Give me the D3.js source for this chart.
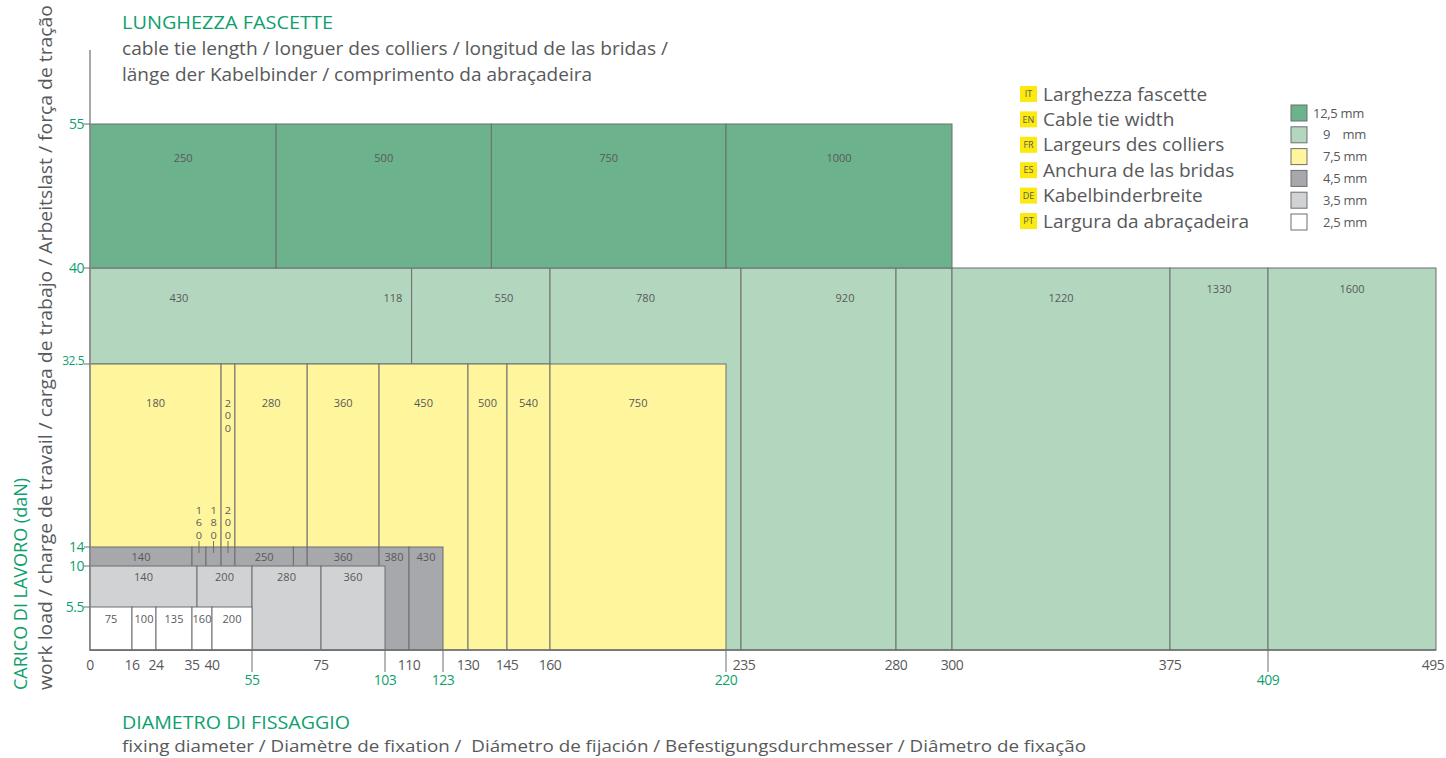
<!DOCTYPE html>
<html>
<head>
<meta charset="utf-8">
<script src="https://cdn.jsdelivr.net/npm/d3@7"></script>
<style>
  body { margin: 0; background: #fff; }
  svg { font-family: "Open Sans", "Noto Sans", sans-serif; }
</style>
</head>
<body>
<div id="chart"></div>
<script>
// Tick values on both axes
const xTicksGrey = [0, 16, 24, 35, 40, 75, 110, 130, 145, 160, 235, 280, 300, 375, 495];
const xTicksGreen = [55, 103, 123, 220, 409];
const yTicks = [5.5, 10, 14, 32.5, 40, 55];

// Cells per cable tie width: [diameter from, diameter to, load from, load to, length label]
const cells125 = [
    [0, 62, 40, 55, "250"], [62, 139, 40, 55, "500"], [139, 220, 40, 55, "750"], [220, 300, 40, 55, "1000"]
];
const cells9 = [
    [0, 111, 32.5, 40, "430"], [111, 160, 32.5, 40, "550"], [160, 235, 0, 40, "780"],
    [235, 280, 0, 40, "920"], [280, 300, 0, 40, ""], [300, 375, 0, 40, "1220"],
    [375, 409, 0, 40, "1330"], [409, 495, 0, 40, "1600"]
];
const cells75 = [
    [0, 43.4, 0, 32.5, "180"], [43.4, 48.6, 0, 32.5, "200"], [48.6, 71, 0, 32.5, "280"],
    [71, 100.4, 0, 32.5, "360"], [100.4, 130, 0, 32.5, "450"], [130, 145, 0, 32.5, "500"],
    [145, 160, 0, 32.5, "540"], [160, 220, 0, 32.5, "750"]
];
const cells45 = [
    [0, 35, 0, 14, "140"], [35, 38.5, 0, 14, "160"], [38.5, 43.4, 0, 14, "180"],
    [43.4, 48.6, 0, 14, "200"], [48.6, 67, 0, 14, "250"], [67, 71, 0, 14, ""],
    [71, 100.4, 0, 14, "360"], [100.4, 110, 0, 14, "380"], [110, 123, 0, 14, "430"]
];
const cells35 = [
    [0, 36.25, 0, 10, "140"], [36.25, 55, 0, 10, "200"], [55, 75, 0, 10, "280"], [75, 103, 0, 10, "360"]
];
const cells25 = [
    [0, 16, 0, 5.5, "75"], [16, 24, 0, 5.5, "100"], [24, 35, 0, 5.5, "135"],
    [35, 40, 0, 5.5, "160"], [40, 55, 0, 5.5, "200"]
];
// Labels that sit off the middle of their cell: [diameter, label]
const offLabels9 = [[31, "430"], [105.3, "118"], [143.8, "550"], [265.2, "920"]];

const langCodes = ["IT", "EN", "FR", "ES", "DE", "PT"];
const langNames = ["Larghezza fascette", "Cable tie width", "Largeurs des colliers",
                   "Anchura de las bridas", "Kabelbinderbreite", "Largura da abraçadeira"];
const widthNames = ["12,5 mm", "9    mm", "7,5 mm", "4,5 mm", "3,5 mm", "2,5 mm"];

const width = 1446;
const height = 758;
const green = "#0e9f6e";
const textGrey = "#58595b";
const lineGrey = "#6d6e71";

// Layer styles (drawn back to front)
const layers = [
    {cells: cells9, fill: "#b3d6bf", labelDy: 30, offs: offLabels9},
    {cells: cells125, fill: "#6cb28d", labelDy: 34},
    {cells: cells75, fill: "#fff59c", labelDy: 39, vertical: ["200"]},
    {cells: cells45, fill: "#a7a8ab", labelDy: 10, above: ["160", "180", "200"]},
    {cells: cells35, fill: "#d1d2d4", labelDy: 11},
    {cells: cells25, fill: "#ffffff", labelDy: 12}
];
const swatchFills = ["#6cb28d", "#b3d6bf", "#fff59c", "#a7a8ab", "#d1d2d4", "#ffffff"];

// The drawing is not to scale, so both scales are piecewise
const xDomain = [0, 16, 24, 35, 40, 55, 75, 103, 110, 123, 130, 145, 160, 220, 235, 280, 300, 375, 409, 495];
const xScale = d3.scaleLinear()
    .domain(xDomain)
    .range([90, 132, 156, 192, 212, 252, 321, 385, 409, 443, 468, 507, 550, 726, 741, 896, 952, 1170, 1268, 1436]);

const yScale = d3.scaleLinear()
    .domain([0, 5.5, 10, 14, 32.5, 40, 55])
    .range([650, 607, 566, 547, 364, 268, 124]);

const svg = d3.select("#chart")
    .append("svg")
    .attr("width", width)
    .attr("height", height);

// stacked digits written top to bottom as one vertical text, squeezed a little
function stacked(g, x, yTop, txt) {
    g.append("text")
        .attr("transform", "translate(" + x + "," + yTop + ") scale(1,0.82)")
        .attr("text-anchor", "start")
        .attr("font-size", 11)
        .attr("fill", textGrey)
        .style("writing-mode", "vertical-lr")
        .style("text-orientation", "upright")
        .text(txt);
}

// Draw the cells
layers.forEach(function(layer) {
    const g = svg.append("g");
    const cell = g.selectAll("g")
        .data(layer.cells)
        .enter()
        .append("g");

    cell.append("rect")
        .attr("x", d => xScale(d[0]))
        .attr("y", d => yScale(d[3]))
        .attr("width", d => xScale(d[1]) - xScale(d[0]))
        .attr("height", d => yScale(d[2]) - yScale(d[3]))
        .attr("fill", layer.fill)
        .attr("stroke", lineGrey)
        .attr("stroke-width", 1);

    const offTexts = (layer.offs || []).map(o => o[1]);
    const plain = layer.cells.filter(d => d[4] !== "" &&
        offTexts.indexOf(d[4]) < 0 &&
        !(layer.vertical && layer.vertical.indexOf(d[4]) >= 0) &&
        !(layer.above && layer.above.indexOf(d[4]) >= 0));

    g.selectAll(".lbl")
        .data(plain)
        .enter().append("text")
        .attr("class", "lbl")
        .attr("x", d => (xScale(d[0]) + xScale(d[1])) / 2)
        .attr("y", d => yScale(d[3]) + layer.labelDy - (d[4] === "1330" || d[4] === "1600" ? 9 : 0))
        .attr("dy", "0.35em")
        .attr("text-anchor", "middle")
        .attr("font-size", 11)
        .attr("fill", textGrey)
        .text(d => d[4]);

    // Labels placed off centre
    if (layer.offs) {
        g.selectAll(".off")
            .data(layer.offs)
            .enter().append("text")
            .attr("x", d => xScale(d[0]))
            .attr("y", yScale(40) + layer.labelDy)
            .attr("dy", "0.35em")
            .attr("text-anchor", "middle")
            .attr("font-size", 11)
            .attr("fill", textGrey)
            .text(d => d[1]);
    }

    // Vertical digits inside narrow cells
    if (layer.vertical) {
        layer.cells.filter(d => layer.vertical.indexOf(d[4]) >= 0).forEach(function(d) {
            stacked(g, (xScale(d[0]) + xScale(d[1])) / 2, yScale(d[3]) + 33, d[4]);
        });
    }

    // Vertical digits above narrow cells with a small pointer
    if (layer.above) {
        layer.cells.filter(d => layer.above.indexOf(d[4]) >= 0).forEach(function(d) {
            const cx = (xScale(d[0]) + xScale(d[1])) / 2;
            const top = yScale(d[3]);
            stacked(g, cx, top - 43, d[4]);
            g.append("line")
                .attr("x1", cx).attr("x2", cx)
                .attr("y1", top - 6).attr("y2", top + 6)
                .attr("stroke", lineGrey)
                .attr("stroke-width", 1);
        });
    }
});

// Y axis
svg.append("line")
    .attr("x1", xScale(0)).attr("x2", xScale(0))
    .attr("y1", 50).attr("y2", yScale(0))
    .attr("stroke", "#8a8b8d")
    .attr("stroke-width", 1.5);

const yTick = svg.selectAll(".ytick")
    .data(yTicks)
    .enter().append("g")
    .attr("class", "ytick")
    .attr("transform", d => "translate(0," + yScale(d) + ")");

yTick.append("line")
    .attr("x1", 84).attr("x2", 90)
    .attr("stroke", lineGrey);

yTick.append("text")
    .attr("x", 84)
    .attr("y", d => d === 32.5 ? -3 : 0)
    .attr("dy", "0.35em")
    .attr("text-anchor", "end")
    .attr("font-size", d => d === 32.5 ? 12 : 14)
    .attr("letter-spacing", -0.5)
    .attr("fill", green)
    .text(d => d);

// X axis
svg.append("line")
    .attr("x1", xScale(0)).attr("x2", xScale(495))
    .attr("y1", yScale(0)).attr("y2", yScale(0))
    .attr("stroke", lineGrey)
    .attr("stroke-width", 1.5);

svg.selectAll(".xgrey")
    .data(xTicksGrey)
    .enter().append("text")
    .attr("x", d => xScale(d) + (d === 235 ? 3 : d === 495 ? -3 : 0))
    .attr("y", 665)
    .attr("dy", "0.35em")
    .attr("text-anchor", "middle")
    .attr("font-size", 14)
    .attr("letter-spacing", -0.5)
    .attr("fill", textGrey)
    .text(d => d);

const xGreen = svg.selectAll(".xgreen")
    .data(xTicksGreen)
    .enter().append("g")
    .attr("transform", d => "translate(" + xScale(d) + ",0)");

xGreen.append("line")
    .attr("y1", yScale(0)).attr("y2", 672)
    .attr("stroke", lineGrey);

xGreen.append("text")
    .attr("y", 680)
    .attr("dy", "0.35em")
    .attr("text-anchor", "middle")
    .attr("font-size", 14)
    .attr("letter-spacing", -0.5)
    .attr("fill", green)
    .text(d => d);

// Titles
function title(x, y, txt, size, color, len) {
    return svg.append("text")
        .attr("x", x)
        .attr("y", y)
        .attr("font-size", size)
        .attr("fill", color)
        .attr("textLength", len)
        .attr("lengthAdjust", "spacingAndGlyphs")
        .text(txt);
}

title(122, 29, "LUNGHEZZA FASCETTE", 19, green, 211);
title(122, 55, "cable tie length / longuer des colliers / longitud de las bridas /", 18, textGrey, 546);
title(122, 81, "länge der Kabelbinder / comprimento da abraçadeira", 18, textGrey, 470);

title(122, 729, "DIAMETRO DI FISSAGGIO", 19, green, 228);
title(122, 752, "fixing diameter / Diamètre de fixation /  Diámetro de fijación / Befestigungsdurchmesser / Diâmetro de fixação", 17, textGrey, 964)
    .style("white-space", "pre");

title(0, 0, "CARICO DI LAVORO (daN)", 19, green, 212)
    .attr("transform", "translate(27,690) rotate(-90)");
title(0, 0, "work load / charge de travail / carga de trabajo / Arbeitslast / força de tração", 19, textGrey, 685)
    .attr("transform", "translate(52,690) rotate(-90)");

// Language legend
const lang = svg.selectAll(".lang")
    .data(langCodes)
    .enter().append("g")
    .attr("transform", (d, i) => "translate(1020," + (94 + i * 25.4) + ")");

lang.append("rect")
    .attr("x", 0).attr("y", -8)
    .attr("width", 17).attr("height", 16)
    .attr("fill", "#fbe90f");

lang.append("text")
    .attr("x", 8.5)
    .attr("dy", "0.35em")
    .attr("text-anchor", "middle")
    .attr("font-size", 9)
    .attr("fill", textGrey)
    .text(d => d);

lang.append("text")
    .attr("x", 23)
    .attr("dy", "0.35em")
    .attr("font-size", 19)
    .attr("fill", textGrey)
    .text((d, i) => langNames[i]);

// Width legend
const sw = svg.selectAll(".sw")
    .data(widthNames)
    .enter().append("g")
    .attr("transform", (d, i) => "translate(1291," + (113 + i * 21.8) + ")");

sw.append("rect")
    .attr("x", 0).attr("y", -8)
    .attr("width", 16).attr("height", 16)
    .attr("fill", (d, i) => swatchFills[i])
    .attr("stroke", lineGrey);

sw.append("text")
    .attr("x", (d, i) => i === 0 ? 22 : 32)
    .attr("dy", "0.35em")
    .attr("font-size", 13)
    .attr("letter-spacing", -0.3)
    .attr("fill", textGrey)
    .style("white-space", "pre")
    .text(d => d);
</script>
</body>
</html>
